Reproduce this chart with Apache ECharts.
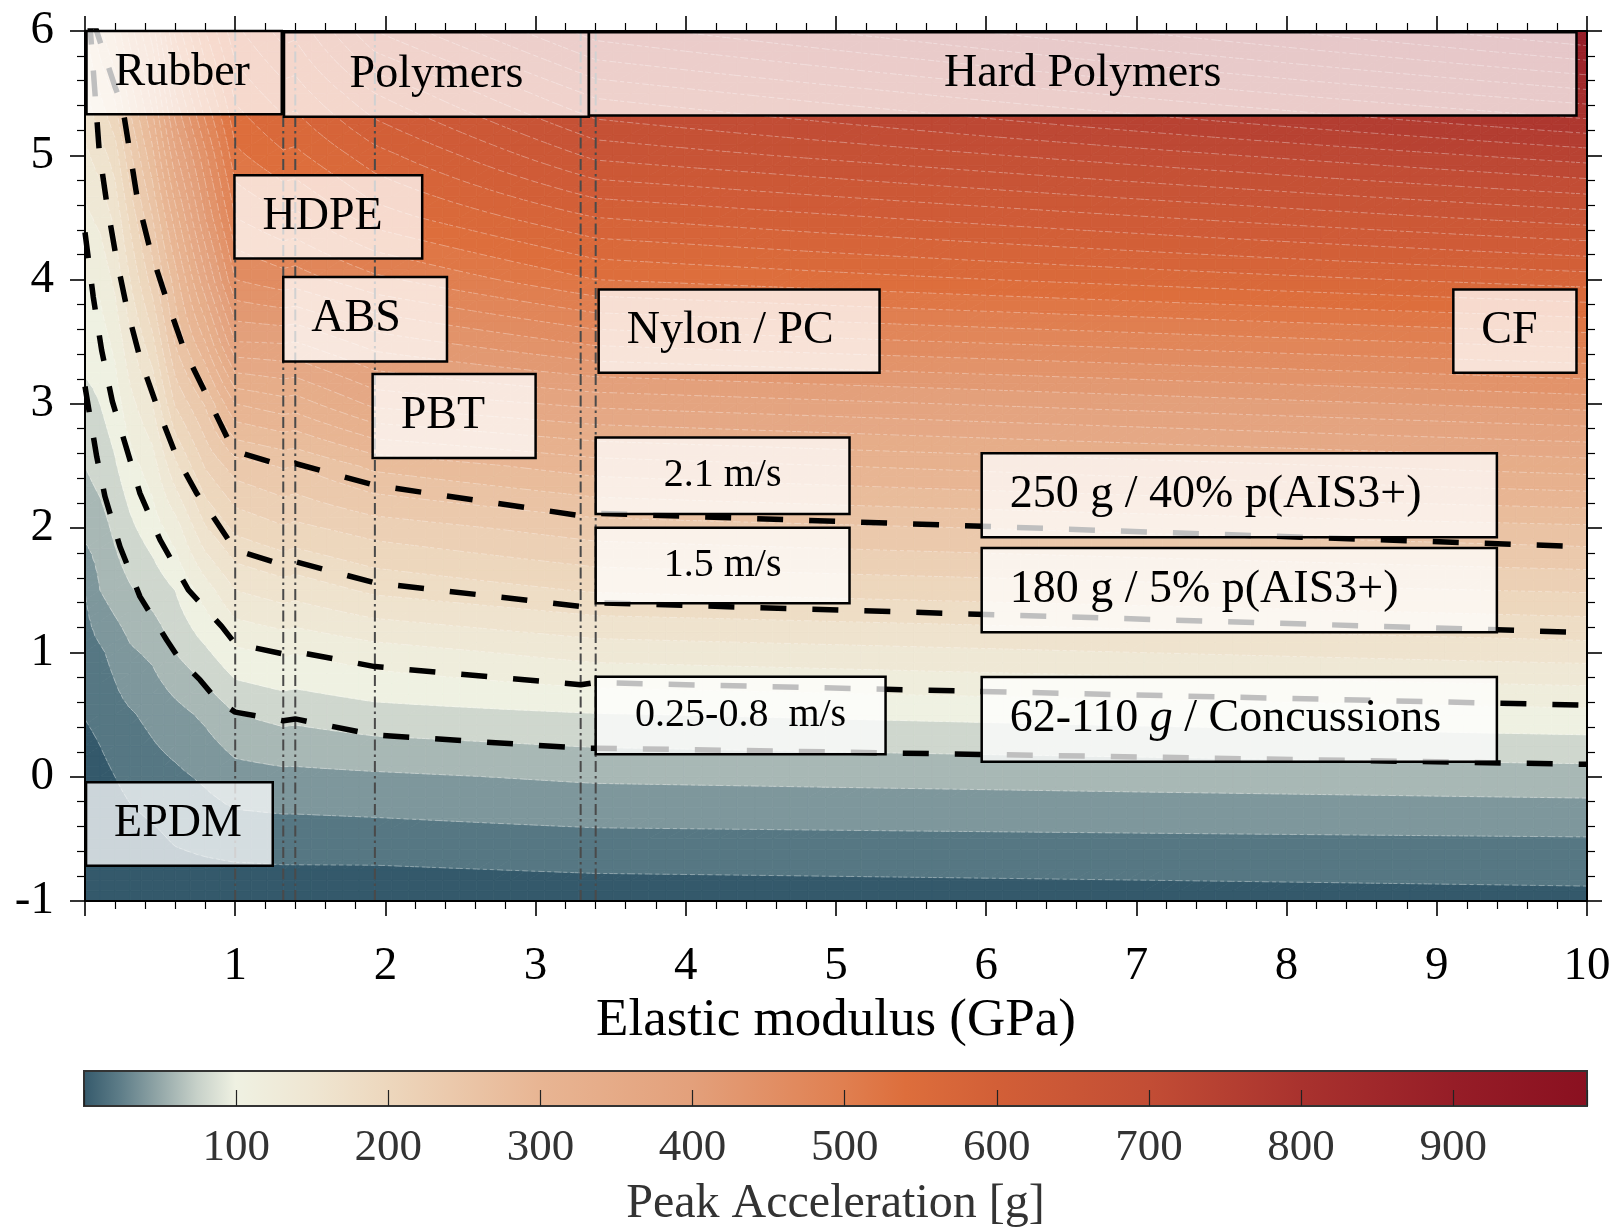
<!DOCTYPE html>
<html>
<head>
<meta charset="utf-8">
<title>Peak acceleration vs elastic modulus</title>
<script src="https://cdn.jsdelivr.net/npm/echarts/dist/echarts.min.js"></script>
<style>
  html, body { margin: 0; padding: 0; background: #ffffff; }
  #chart { width: 1619px; height: 1229px; }
</style>
</head>
<body>
<div id="chart"></div>
<script>
// ---------------------------------------------------------------------------
// Sampled field: peak acceleration [g] on an (elastic modulus, vertical) grid
// ---------------------------------------------------------------------------
const modulusGPa = [0, 0.1, 0.2, 0.3, 0.45, 0.6, 0.8, 1.0, 1.32, 1.4, 1.93, 3.4, 10];
const verticalRows = [-1, -0.5, 0, 0.5, 1, 1.5, 2, 2.5, 3, 3.5, 4, 4.5, 5, 5.5, 6];

// one column per modulus value, listed from the bottom row (-1) to the top row (6)
const accelE0_00 = [-15, -5, 8, 21, 30, 40, 66, 80, 94, 108, 120, 135, 155, 175, 195];
const accelE0_10 = [-10, 3, 14, 26, 37, 60, 72, 88, 100, 110, 125, 145, 170, 200, 235];
const accelE0_20 = [-5, 8, 20, 33, 46, 70, 84, 98, 110, 125, 145, 165, 190, 225, 265];
const accelE0_30 = [0, 12, 26, 38, 57, 78, 96, 112, 133, 155, 180, 205, 235, 270, 310];
const accelE0_45 = [2, 16, 32, 45, 64, 88, 110, 130, 160, 195, 230, 260, 295, 330, 370];
const accelE0_60 = [5, 22, 36, 53, 80, 100, 130, 175, 222, 262, 290, 330, 375, 420, 465];
const accelE0_80 = [5, 26, 43, 64, 96, 130, 178, 222, 262, 320, 375, 420, 455, 500, 540];
const accelE1_00 = [5, 29, 52, 79, 116, 160, 205, 250, 320, 400, 460, 500, 535, 565, 595];
const accelE1_32 = [6, 30, 55, 86, 123, 170, 218, 262, 332, 402, 472, 517, 557, 592, 628];
const accelE1_40 = [6, 30, 55, 85, 121, 168, 215, 260, 330, 400, 470, 515, 555, 590, 625];
const accelE1_93 = [5, 31, 57, 92, 131, 184, 229, 285, 365, 430, 495, 550, 592, 640, 700];
const accelE3_40 = [8, 35, 63, 99, 148, 202, 250, 310, 385, 465, 540, 600, 665, 725, 790];
const accelE10_0 = [14, 39, 71, 114, 170, 222, 276, 350, 428, 508, 590, 670, 750, 835, 920];

const fieldColumns = [accelE0_00, accelE0_10, accelE0_20, accelE0_30, accelE0_45, accelE0_60,
  accelE0_80, accelE1_00, accelE1_32, accelE1_40, accelE1_93, accelE3_40, accelE10_0];

// Impact-velocity curves: [elastic modulus GPa, vertical value]
const curve2_1ms = [[0.05, 6.1], [0.2, 5.55], [0.25, 5.39], [0.291, 5.083], [0.348, 4.654], [0.433, 4.244],
  [0.544, 3.836], [0.659, 3.44], [0.814, 3.058], [0.965, 2.683], [1.0, 2.62], [1.32, 2.5], [1.4, 2.52],
  [1.93, 2.345], [3.3, 2.10], [3.4, 2.12], [10, 1.85]];
const curve1_5ms = [[0.03, 6.1], [0.05, 5.77], [0.095, 5.03], [0.144, 4.62], [0.206, 4.19], [0.277, 3.78],
  [0.366, 3.37], [0.482, 2.97], [0.611, 2.57], [0.744, 2.28], [0.854, 2.09], [1.0, 1.825], [1.32, 1.704],
  [1.4, 1.73], [1.93, 1.56], [3.3, 1.37], [3.4, 1.40], [10, 1.16]];
const curve0_8ms = [[0.0, 4.38], [0.055, 3.86], [0.111, 3.43], [0.182, 3.02], [0.277, 2.64], [0.366, 2.28],
  [0.5, 1.905], [0.688, 1.503], [0.91, 1.21], [1.0, 1.07], [1.32, 0.988], [1.4, 1.007], [1.93, 0.886],
  [3.3, 0.74], [3.4, 0.757], [10, 0.575]];
const curve0_25ms = [[0.0, 3.14], [0.078, 2.575], [0.133, 2.254], [0.233, 1.85], [0.366, 1.449], [0.544, 1.10],
  [0.632, 0.94], [0.766, 0.779], [0.877, 0.618], [1.0, 0.52], [1.32, 0.45], [1.4, 0.465], [1.93, 0.336],
  [3.3, 0.23], [3.4, 0.23], [10, 0.10]];

// Material moduli marked with vertical guides (GPa)
const materialModuli = [1.0, 1.32, 1.4, 1.93, 3.3, 3.4];

// Axis ticks
const xTicks = [0, 1, 2, 3, 4, 5, 6, 7, 8, 9, 10];
const yTicks = [-1, 0, 1, 2, 3, 4, 5, 6];
const colorbarTicks = [100, 200, 300, 400, 500, 600, 700, 800, 900];
const colorbarMax = 988;

// ---------------------------------------------------------------------------
// Styling
// ---------------------------------------------------------------------------
const SERIF = '"Liberation Serif", "Times New Roman", Times, serif';
const LEVEL_STEP = 20;

const colormapStops = [
  [0, '#34596b'], [25, '#5f7e89'], [50, '#93a7a8'], [75, '#c7d1c9'], [100, '#eff1e2'],
  [150, '#efe6d2'], [200, '#edd7bd'], [300, '#e8b593'], [400, '#e3a07b'], [500, '#e07f50'],
  [540, '#dd6e3c'], [600, '#d25f37'], [700, '#c24d35'], [800, '#a9322e'], [900, '#961d27'],
  [988, '#8a1020']
];

function hexRgb(h) {
  return [parseInt(h.slice(1, 3), 16), parseInt(h.slice(3, 5), 16), parseInt(h.slice(5, 7), 16)];
}
const stopRgb = colormapStops.map(s => [s[0], hexRgb(s[1])]);
function colormapAt(v) {
  if (v <= stopRgb[0][0]) return colormapStops[0][1];
  const last = stopRgb[stopRgb.length - 1];
  if (v >= last[0]) return colormapStops[colormapStops.length - 1][1];
  for (let i = 0; i < stopRgb.length - 1; i++) {
    const a = stopRgb[i], b = stopRgb[i + 1];
    if (v >= a[0] && v <= b[0]) {
      const t = (v - a[0]) / (b[0] - a[0]);
      const c = a[1].map((ch, k) => Math.round(ch + (b[1][k] - ch) * t));
      return 'rgb(' + c.join(',') + ')';
    }
  }
  return colormapStops[0][1];
}
const bandColorCache = {};
function bandColor(k) {
  if (!(k in bandColorCache)) bandColorCache[k] = colormapAt(Math.max(0, k * LEVEL_STEP));
  return bandColorCache[k];
}
const bandOf = v => Math.max(0, Math.floor(v / LEVEL_STEP));

// ---------------------------------------------------------------------------
// Filled-contour rendering (triangles clipped per level band)
// ---------------------------------------------------------------------------
function clipByLevel(poly, level, keepAbove) {
  const out = [];
  const n = poly.length;
  for (let i = 0; i < n; i++) {
    const a = poly[i], b = poly[(i + 1) % n];
    const da = keepAbove ? a.v - level : level - a.v;
    const db = keepAbove ? b.v - level : level - b.v;
    if (da >= 0) out.push(a);
    if ((da >= 0) !== (db >= 0)) {
      const t = da / (da - db);
      out.push({ x: a.x + (b.x - a.x) * t, y: a.y + (b.y - a.y) * t, v: level });
    }
  }
  return out;
}

function polyShape(poly, color) {
  return {
    type: 'polygon', silent: true,
    shape: { points: poly.map(p => [p.x, p.y]) },
    style: { fill: color, stroke: color, lineWidth: 0.8 }
  };
}

function addBands(tri, out) {
  const vs = tri.map(p => p.v);
  const kMin = bandOf(Math.min.apply(null, vs));
  const kMax = bandOf(Math.max.apply(null, vs));
  for (let k = kMin; k <= kMax; k++) {
    let poly = tri;
    if (k > kMin) poly = clipByLevel(poly, k * LEVEL_STEP, true);
    if (poly.length >= 3 && k < kMax) poly = clipByLevel(poly, (k + 1) * LEVEL_STEP, false);
    if (poly.length >= 3) out.push(polyShape(poly, bandColor(k)));
  }
}

function addIsolines(tri, out) {
  const vs = tri.map(p => p.v);
  const kMin = bandOf(Math.min.apply(null, vs));
  const kMax = bandOf(Math.max.apply(null, vs));
  for (let k = kMin + 1; k <= kMax; k++) {
    const L = k * LEVEL_STEP;
    const pts = [];
    for (let i = 0; i < 3; i++) {
      const a = tri[i], b = tri[(i + 1) % 3];
      if ((a.v < L) !== (b.v < L)) {
        const t = (L - a.v) / (b.v - a.v);
        pts.push([a.x + (b.x - a.x) * t, a.y + (b.y - a.y) * t]);
      }
    }
    if (pts.length === 2) {
      out.push({
        type: 'line', silent: true,
        shape: { x1: pts[0][0], y1: pts[0][1], x2: pts[1][0], y2: pts[1][1] },
        style: { stroke: 'rgba(255,255,255,0.42)', lineWidth: 0.8, lineDash: [4, 3] }
      });
    }
  }
}

function renderFieldCell(api, mode) {
  const ci = api.value(2), ri = api.value(3);
  const pA = api.coord([modulusGPa[ci], verticalRows[ri]]);
  const pB = api.coord([modulusGPa[ci + 1], verticalRows[ri + 1]]);
  const v00 = fieldColumns[ci][ri], v10 = fieldColumns[ci + 1][ri];
  const v01 = fieldColumns[ci][ri + 1], v11 = fieldColumns[ci + 1][ri + 1];
  const nx = Math.max(1, Math.ceil(Math.abs(pB[0] - pA[0]) / 18));
  const ny = Math.max(1, Math.ceil(Math.abs(pB[1] - pA[1]) / 12));
  const node = (i, j) => {
    const u = i / nx, w = j / ny;
    return {
      x: pA[0] + (pB[0] - pA[0]) * u,
      y: pA[1] + (pB[1] - pA[1]) * w,
      v: v00 * (1 - u) * (1 - w) + v10 * u * (1 - w) + v01 * (1 - u) * w + v11 * u * w
    };
  };
  const children = [];
  for (let i = 0; i < nx; i++) {
    for (let j = 0; j < ny; j++) {
      const a = node(i, j), b = node(i + 1, j), c = node(i + 1, j + 1), d = node(i, j + 1);
      if (mode === 'fill') {
        const k = bandOf(a.v);
        if (bandOf(b.v) === k && bandOf(c.v) === k && bandOf(d.v) === k) {
          children.push(polyShape([a, b, c, d], bandColor(k)));
        } else {
          addBands([a, b, c], children);
          addBands([a, c, d], children);
        }
      } else {
        addIsolines([a, b, c], children);
        addIsolines([a, c, d], children);
      }
    }
  }
  return { type: 'group', children };
}

const fieldCells = [];
for (let ci = 0; ci < modulusGPa.length - 1; ci++) {
  for (let ri = 0; ri < verticalRows.length - 1; ri++) {
    fieldCells.push([(modulusGPa[ci] + modulusGPa[ci + 1]) / 2, (verticalRows[ri] + verticalRows[ri + 1]) / 2, ci, ri]);
  }
}

// ---------------------------------------------------------------------------
// Annotation boxes (data coordinates)
// ---------------------------------------------------------------------------
const labelBoxes = [
  { text: 'Rubber', x0: 0.01, x1: 1.31, y0: 5.33, y1: 6.0, align: 'left', size: 46 },
  { text: 'Polymers', x0: 1.325, x1: 3.355, y0: 5.31, y1: 5.99, align: 'center', size: 46 },
  { text: 'Hard Polymers', x0: 3.355, x1: 9.93, y0: 5.32, y1: 5.99, align: 'center', size: 46 },
  { text: 'HDPE', x0: 0.995, x1: 2.245, y0: 4.17, y1: 4.84, align: 'left', size: 46 },
  { text: 'ABS', x0: 1.32, x1: 2.41, y0: 3.34, y1: 4.02, align: 'left', size: 46 },
  { text: 'PBT', x0: 1.915, x1: 3.0, y0: 2.565, y1: 3.24, align: 'left', size: 46 },
  { text: 'Nylon / PC', x0: 3.42, x1: 5.29, y0: 3.25, y1: 3.92, align: 'left', size: 46 },
  { text: 'CF', x0: 9.11, x1: 9.93, y0: 3.25, y1: 3.92, align: 'left', size: 46 },
  { text: '2.1 m/s', x0: 3.40, x1: 5.09, y0: 2.114, y1: 2.73, align: 'center', size: 40 },
  { text: '1.5 m/s', x0: 3.40, x1: 5.09, y0: 1.396, y1: 2.004, align: 'center', size: 40 },
  { text: '0.25-0.8  m/s', x0: 3.40, x1: 5.33, y0: 0.181, y1: 0.805, align: 'center', size: 40 },
  { text: '250 g / 40% p(AIS3+)', x0: 5.97, x1: 9.40, y0: 1.927, y1: 2.603, align: 'left', size: 46 },
  { text: '180 g / 5% p(AIS3+)', x0: 5.97, x1: 9.40, y0: 1.163, y1: 1.84, align: 'left', size: 46 },
  { text: '{r|62-110 }{i|g}{r| / Concussions}', x0: 5.97, x1: 9.40, y0: 0.12, y1: 0.803, align: 'left', size: 46 },
  { text: 'EPDM', x0: 0.007, x1: 1.25, y0: -0.717, y1: -0.044, align: 'left', size: 46 }
];

function renderLabelBox(params, api) {
  const box = labelBoxes[params.dataIndex];
  const pA = api.coord([box.x0, box.y1]);
  const pB = api.coord([box.x1, box.y0]);
  const w = pB[0] - pA[0], h = pB[1] - pA[1];
  const tx = box.align === 'left' ? pA[0] + 28 : pA[0] + w / 2;
  return {
    type: 'group',
    children: [
      {
        type: 'rect', silent: true,
        shape: { x: pA[0], y: pA[1], width: w, height: h },
        style: { fill: 'rgba(255,255,255,0.75)', stroke: '#000000', lineWidth: 2.5 }
      },
      {
        type: 'text', silent: true,
        x: tx, y: pA[1] + h / 2,
        style: {
          text: box.text,
          fill: '#000000',
          font: box.size + 'px ' + SERIF,
          align: box.align, verticalAlign: 'middle',
          rich: {
            r: { fontSize: box.size, fontFamily: SERIF, fill: '#000000' },
            i: { fontSize: box.size, fontFamily: SERIF, fontStyle: 'italic', fill: '#000000' }
          }
        }
      }
    ]
  };
}

// ---------------------------------------------------------------------------
// Chart
// ---------------------------------------------------------------------------
const chart = echarts.init(document.getElementById('chart'), null, { renderer: 'canvas' });

const frameAxisLine = { show: true, onZero: false, lineStyle: { color: '#000000', width: 2 } };
const majorTick = { show: true, inside: false, length: 15, lineStyle: { color: '#000000', width: 1.6 } };
const minorTick = { show: true, splitNumber: 5, length: 8, lineStyle: { color: '#000000', width: 1.2 } };

const velocityCurves = [
  { name: '2.1 m/s', data: curve2_1ms },
  { name: '1.5 m/s', data: curve1_5ms },
  { name: '0.8 m/s', data: curve0_8ms },
  { name: '0.25 m/s', data: curve0_25ms }
];

const series = [
  {
    type: 'custom', name: 'field-fill', xAxisIndex: 0, yAxisIndex: 0, z: 1,
    clip: true, silent: true,
    encode: { x: 0, y: 1 },
    data: fieldCells,
    renderItem: (params, api) => renderFieldCell(api, 'fill')
  },
  {
    type: 'custom', name: 'field-lines', xAxisIndex: 0, yAxisIndex: 0, z: 2,
    clip: true, silent: true,
    encode: { x: 0, y: 1 },
    data: fieldCells,
    renderItem: (params, api) => renderFieldCell(api, 'lines')
  }
];

materialModuli.forEach(E => {
  series.push({
    type: 'line', xAxisIndex: 0, yAxisIndex: 0, z: 3, silent: true,
    symbol: 'none', animation: false,
    data: [[E, yTicks[0]], [E, yTicks[yTicks.length - 1]]],
    lineStyle: { color: '#4a4a4a', width: 2, type: [11, 4, 2.5, 4] }
  });
});

velocityCurves.forEach(c => {
  series.push({
    type: 'line', name: c.name, xAxisIndex: 0, yAxisIndex: 0, z: 4, silent: true,
    symbol: 'none', clip: true,
    data: c.data,
    lineStyle: { color: '#000000', width: 5.5, type: [26, 26], cap: 'butt' }
  });
});

series.push({
  type: 'custom', name: 'labels', xAxisIndex: 0, yAxisIndex: 0, z: 5, silent: true,
  clip: false,
  encode: { x: 0, y: 1 },
  data: labelBoxes.map(b => [(b.x0 + b.x1) / 2, (b.y0 + b.y1) / 2]),
  renderItem: renderLabelBox
});

series.push({
  type: 'custom', name: 'colorbar', xAxisIndex: 2, yAxisIndex: 2, z: 1, silent: true,
  encode: { x: 0, y: 1 },
  data: [[0, 0]],
  renderItem: (params, api) => {
    const p0 = api.coord([0, 0]);
    const p1 = api.coord([colorbarMax, 1]);
    const stops = colormapStops.map(s => ({ offset: s[0] / colorbarMax, color: s[1] }));
    return {
      type: 'rect',
      shape: { x: p0[0], y: p1[1], width: p1[0] - p0[0], height: p0[1] - p1[1] },
      style: { fill: new echarts.graphic.LinearGradient(0, 0, 1, 0, stops), stroke: '#333333', lineWidth: 2 }
    };
  }
});

const option = {
  animation: false,
  backgroundColor: '#ffffff',
  grid: [
    { left: 85, right: 32, top: 31, height: 870, containLabel: false, outerBoundsMode: 'none' },
    { left: 84, right: 32, top: 1071, height: 35, containLabel: false, outerBoundsMode: 'none' }
  ],
  xAxis: [
    {
      type: 'value', gridIndex: 0, position: 'bottom', z: 10,
      min: xTicks[0], max: xTicks[xTicks.length - 1], interval: 1,
      axisLine: frameAxisLine, axisTick: majorTick, minorTick: minorTick,
      splitLine: { show: false }, minorSplitLine: { show: false },
      axisLabel: {
        show: true, margin: 42, color: '#000000', fontFamily: SERIF, fontSize: 47,
        showMinLabel: true, showMaxLabel: true,
        formatter: v => (v === 0 ? '' : String(v))
      },
      name: 'Elastic modulus (GPa)', nameLocation: 'middle', nameGap: 94,
      nameTextStyle: { color: '#000000', fontFamily: SERIF, fontSize: 53 }
    },
    {
      type: 'value', gridIndex: 0, position: 'top', z: 10,
      min: xTicks[0], max: xTicks[xTicks.length - 1], interval: 1,
      axisLine: frameAxisLine, axisTick: majorTick, minorTick: minorTick,
      splitLine: { show: false }, minorSplitLine: { show: false },
      axisLabel: { show: false }
    },
    {
      type: 'value', gridIndex: 1, position: 'bottom', z: 10,
      min: 0, max: colorbarMax, interval: 100,
      axisLine: { show: false },
      axisTick: { show: true, inside: true, length: 16, lineStyle: { color: '#222222', width: 1.2 } },
      splitLine: { show: false },
      axisLabel: {
        show: true, margin: 20, color: '#333333', fontFamily: SERIF, fontSize: 45,
        showMinLabel: true, showMaxLabel: true,
        formatter: v => (colorbarTicks.indexOf(v) >= 0 ? String(v) : '')
      },
      name: 'Peak Acceleration [g]', nameLocation: 'middle', nameGap: 74,
      nameTextStyle: { color: '#333333', fontFamily: SERIF, fontSize: 48 }
    }
  ],
  yAxis: [
    {
      type: 'value', gridIndex: 0, position: 'left', z: 10,
      min: yTicks[0], max: yTicks[yTicks.length - 1], interval: 1,
      axisLine: frameAxisLine, axisTick: majorTick, minorTick: minorTick,
      splitLine: { show: false }, minorSplitLine: { show: false },
      axisLabel: {
        show: true, margin: 31, color: '#000000', fontFamily: SERIF, fontSize: 47,
        showMinLabel: true, showMaxLabel: true
      }
    },
    {
      type: 'value', gridIndex: 0, position: 'right', z: 10,
      min: yTicks[0], max: yTicks[yTicks.length - 1], interval: 1,
      axisLine: frameAxisLine, axisTick: majorTick, minorTick: minorTick,
      splitLine: { show: false }, minorSplitLine: { show: false },
      axisLabel: { show: false }
    },
    {
      type: 'value', gridIndex: 1, min: 0, max: 1, show: false
    }
  ],
  series: series
};

chart.setOption(option);
</script>
</body>
</html>
